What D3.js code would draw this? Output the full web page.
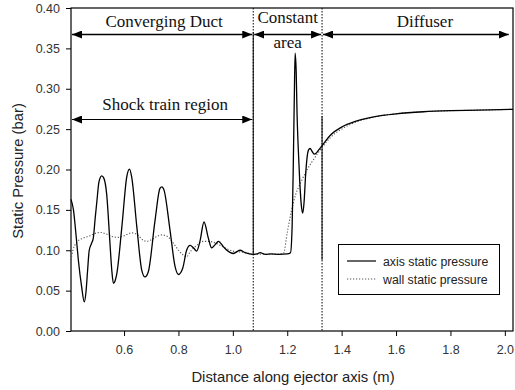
<!DOCTYPE html>
<html>
<head>
<meta charset="utf-8">
<script src="https://cdn.jsdelivr.net/npm/d3@7"></script>
<style>
  html, body { margin: 0; padding: 0; background: #fff; }
  svg { display: block; }
</style>
</head>
<body>
<svg id="chart" width="515" height="390"></svg>
<script>
// Static pressure along the ejector axis and along the wall
const axisX = [0.405,0.414,0.424,0.432,0.444,0.454,0.460,0.466,0.472,0.480,0.487,0.494,0.500,0.508,0.518,0.526,0.536,0.548,0.555,0.561,0.567,0.573,0.592,0.610,0.620,0.628,0.647,0.665,0.677,0.689,0.714,0.732,0.739,0.747,0.769,0.7875,0.800,0.816,0.830,0.843,0.855,0.867,0.879,0.894,0.910,0.922,0.935,0.947,0.965,0.978,1.002,1.026,1.045,1.075,1.090,1.100,1.120,1.140,1.170,1.200,1.212,1.218,1.222,1.226,1.229,1.233,1.236,1.240,1.246,1.252,1.257,1.262,1.267,1.272,1.278,1.284,1.292,1.300,1.306,1.315,1.327,1.360,1.400,1.450,1.500,1.550,1.600,1.700,1.800,1.900,2.030];
const axisP = [0.163,0.150,0.117,0.088,0.055,0.036,0.048,0.075,0.100,0.108,0.115,0.140,0.160,0.185,0.192,0.189,0.170,0.110,0.075,0.059,0.062,0.070,0.129,0.191,0.2005,0.191,0.129,0.0755,0.067,0.073,0.137,0.1766,0.1786,0.1745,0.125,0.080,0.070,0.078,0.100,0.106,0.103,0.099,0.111,0.135,0.115,0.103,0.107,0.111,0.1045,0.100,0.096,0.100,0.097,0.095,0.0955,0.097,0.095,0.0955,0.095,0.0955,0.097,0.130,0.200,0.290,0.344,0.320,0.270,0.230,0.185,0.155,0.146,0.160,0.190,0.212,0.224,0.226,0.222,0.219,0.220,0.224,0.229,0.243,0.2525,0.2595,0.264,0.267,0.269,0.2715,0.2728,0.2735,0.2745];

const wallX = [0.405,0.412,0.422,0.432,0.450,0.475,0.500,0.515,0.535,0.555,0.578,0.600,0.628,0.650,0.668,0.683,0.700,0.720,0.739,0.760,0.781,0.800,0.818,0.830,0.845,0.867,0.892,0.910,0.928,0.965,1.000,1.050,1.075,1.100,1.150,1.186,1.200,1.215,1.230,1.250,1.270,1.290,1.310,1.330,1.360,1.400,1.450,1.500,1.550,1.600,1.700,1.800,1.900,2.030];
const wallP = [0.088,0.100,0.108,0.112,0.115,0.118,0.1215,0.122,0.120,0.117,0.116,0.118,0.1215,0.119,0.113,0.111,0.113,0.117,0.119,0.117,0.109,0.100,0.094,0.092,0.099,0.106,0.111,0.111,0.110,0.104,0.099,0.097,0.095,0.095,0.095,0.096,0.122,0.148,0.168,0.184,0.198,0.209,0.219,0.228,0.240,0.250,0.2585,0.2635,0.267,0.269,0.2715,0.2728,0.2735,0.2745];

// Tick values
const xTicks = [0.6, 0.8, 1.0, 1.2, 1.4, 1.6, 1.8, 2.0];
const yTicks = [0.00, 0.05, 0.10, 0.15, 0.20, 0.25, 0.30, 0.35, 0.40];

// Section boundaries of the ejector (m)
const sectionEdges = [0.405, 1.075, 1.328, 2.018];
const sectionNames = ["Converging Duct", "Constant", "Diffuser"];
const shockTrain = [0.405, 1.075];

const seriesNames = ["axis static pressure", "wall static pressure"];

const svg = d3.select("#chart");
const L = 71, T = 8, R = 513, B = 331;

const x = d3.scaleLinear().domain([0.405, 2.030]).range([L, R]);
const y = d3.scaleLinear().domain([0, 0.40]).range([B, T]);

const sans = "'Liberation Sans', Arial, sans-serif";
const serif = "'Liberation Serif', 'Times New Roman', serif";

// Axes
const xAxis = d3.axisBottom(x).tickValues(xTicks).tickFormat(d3.format(".1f")).tickSize(5).tickSizeOuter(0);
const yAxis = d3.axisLeft(y).tickValues(yTicks).tickFormat(d3.format(".2f")).tickSize(5).tickSizeOuter(0);

const gx = svg.append("g").attr("transform", `translate(0,${B})`).call(xAxis);
const gy = svg.append("g").attr("transform", `translate(${L},0)`).call(yAxis);
[gx, gy].forEach(g => {
  g.select(".domain").remove();
  g.selectAll(".tick line").attr("stroke", "#000");
  g.selectAll(".tick text").attr("fill", "#333").style("font-family", sans).style("font-size", "12.5px");
});
gx.selectAll(".tick text").attr("dy", "1.2em");
gy.selectAll(".tick text").attr("x", -11);

// Frame
svg.append("rect").attr("x", L).attr("y", T).attr("width", R - L).attr("height", B - T)
  .attr("fill", "none").attr("stroke", "#000").attr("stroke-width", 1.2);

// Section boundary lines: dotted, with the solid stretches of the drawing
[sectionEdges[1], sectionEdges[2]].forEach(v => {
  svg.append("line").attr("x1", x(v)).attr("x2", x(v)).attr("y1", T).attr("y2", B)
    .attr("stroke", "#000").attr("stroke-width", 1).attr("stroke-dasharray", "1.5,1.5");
});
[[sectionEdges[1], 0.37, 0.095], [sectionEdges[2], 0.266, 0.088]].forEach(s => {
  svg.append("line").attr("x1", x(s[0])).attr("x2", x(s[0])).attr("y1", y(s[1])).attr("y2", y(s[2]))
    .attr("stroke", "#000").attr("stroke-width", 1);
});

// Curves
const line = d3.line().x(d => x(d[0])).y(d => y(d[1])).curve(d3.curveMonotoneX);
const wallData = wallX.map((v, i) => [v, wallP[i]]);
const axisData = axisX.map((v, i) => [v, axisP[i]]);

svg.append("path").datum(wallData).attr("d", line)
  .attr("fill", "none").attr("stroke", "#555").attr("stroke-width", 1.1).attr("stroke-dasharray", "1.2,1.8");
svg.append("path").datum(axisData).attr("d", line)
  .attr("fill", "none").attr("stroke", "#000").attr("stroke-width", 1.3).attr("stroke-linejoin", "round");

// Double-headed arrows
const defs = svg.append("defs");
function marker(id, flip) {
  defs.append("marker").attr("id", id).attr("viewBox", "0 0 10 8")
    .attr("refX", flip ? 0 : 10).attr("refY", 4).attr("markerWidth", 10).attr("markerHeight", 8)
    .attr("markerUnits", "userSpaceOnUse").attr("orient", "auto")
    .append("path").attr("d", flip ? "M0,4 L10,0 L10,8 Z" : "M0,0 L10,4 L0,8 Z").attr("fill", "#000");
}
marker("headEnd", false);
marker("headStart", true);

function arrow(a, b, yy, w) {
  svg.append("line").attr("x1", x(a) + 1).attr("x2", x(b) - 1).attr("y1", yy).attr("y2", yy)
    .attr("stroke", "#000").attr("stroke-width", w)
    .attr("marker-start", "url(#headStart)").attr("marker-end", "url(#headEnd)");
}
const arrowY = 34.5;
for (let i = 0; i < 3; i++) arrow(sectionEdges[i], sectionEdges[i + 1], arrowY, 1.6);
arrow(shockTrain[0], shockTrain[1], 119.5, 1);

// Section labels
const lab = (txt, cx, by) => svg.append("text").attr("x", cx).attr("y", by).attr("text-anchor", "middle")
  .style("font-family", serif).style("font-size", "17px").attr("fill", "#111").text(txt);
lab(sectionNames[0], (x(sectionEdges[0]) + x(sectionEdges[1])) / 2 + 2, 27);
lab(sectionNames[1], (x(sectionEdges[1]) + x(sectionEdges[2])) / 2, 23);
lab("area", (x(sectionEdges[1]) + x(sectionEdges[2])) / 2, 48);
lab(sectionNames[2], (x(sectionEdges[2]) + x(sectionEdges[3])) / 2 + 9, 27);
lab("Shock train region", (x(shockTrain[0]) + x(shockTrain[1])) / 2 + 3, 110);

// Axis titles
svg.append("text").attr("x", 293).attr("y", 382).attr("text-anchor", "middle")
  .style("font-family", sans).style("font-size", "14.8px").attr("fill", "#222")
  .text("Distance along ejector axis (m)");
svg.append("text").attr("transform", `translate(23,171) rotate(-90)`).attr("text-anchor", "middle")
  .style("font-family", sans).style("font-size", "14.8px").attr("fill", "#222")
  .text("Static Pressure (bar)");

// Legend
const lg = svg.append("g");
lg.append("rect").attr("x", 338.5).attr("y", 244.5).attr("width", 161).attr("height", 50)
  .attr("fill", "#fff").attr("stroke", "#000").attr("stroke-width", 1);
[[261, null, "#000", 1.2], [279, "1.2,1.8", "#555", 1.1]].forEach((s, i) => {
  lg.append("line").attr("x1", 347).attr("x2", 376).attr("y1", s[0]).attr("y2", s[0])
    .attr("stroke", s[2]).attr("stroke-width", s[3]).attr("stroke-dasharray", s[1]);
  lg.append("text").attr("x", 383).attr("y", s[0] + 4.5)
    .style("font-family", sans).style("font-size", "12.3px").attr("fill", "#222").text(seriesNames[i]);
});
</script>
</body>
</html>
